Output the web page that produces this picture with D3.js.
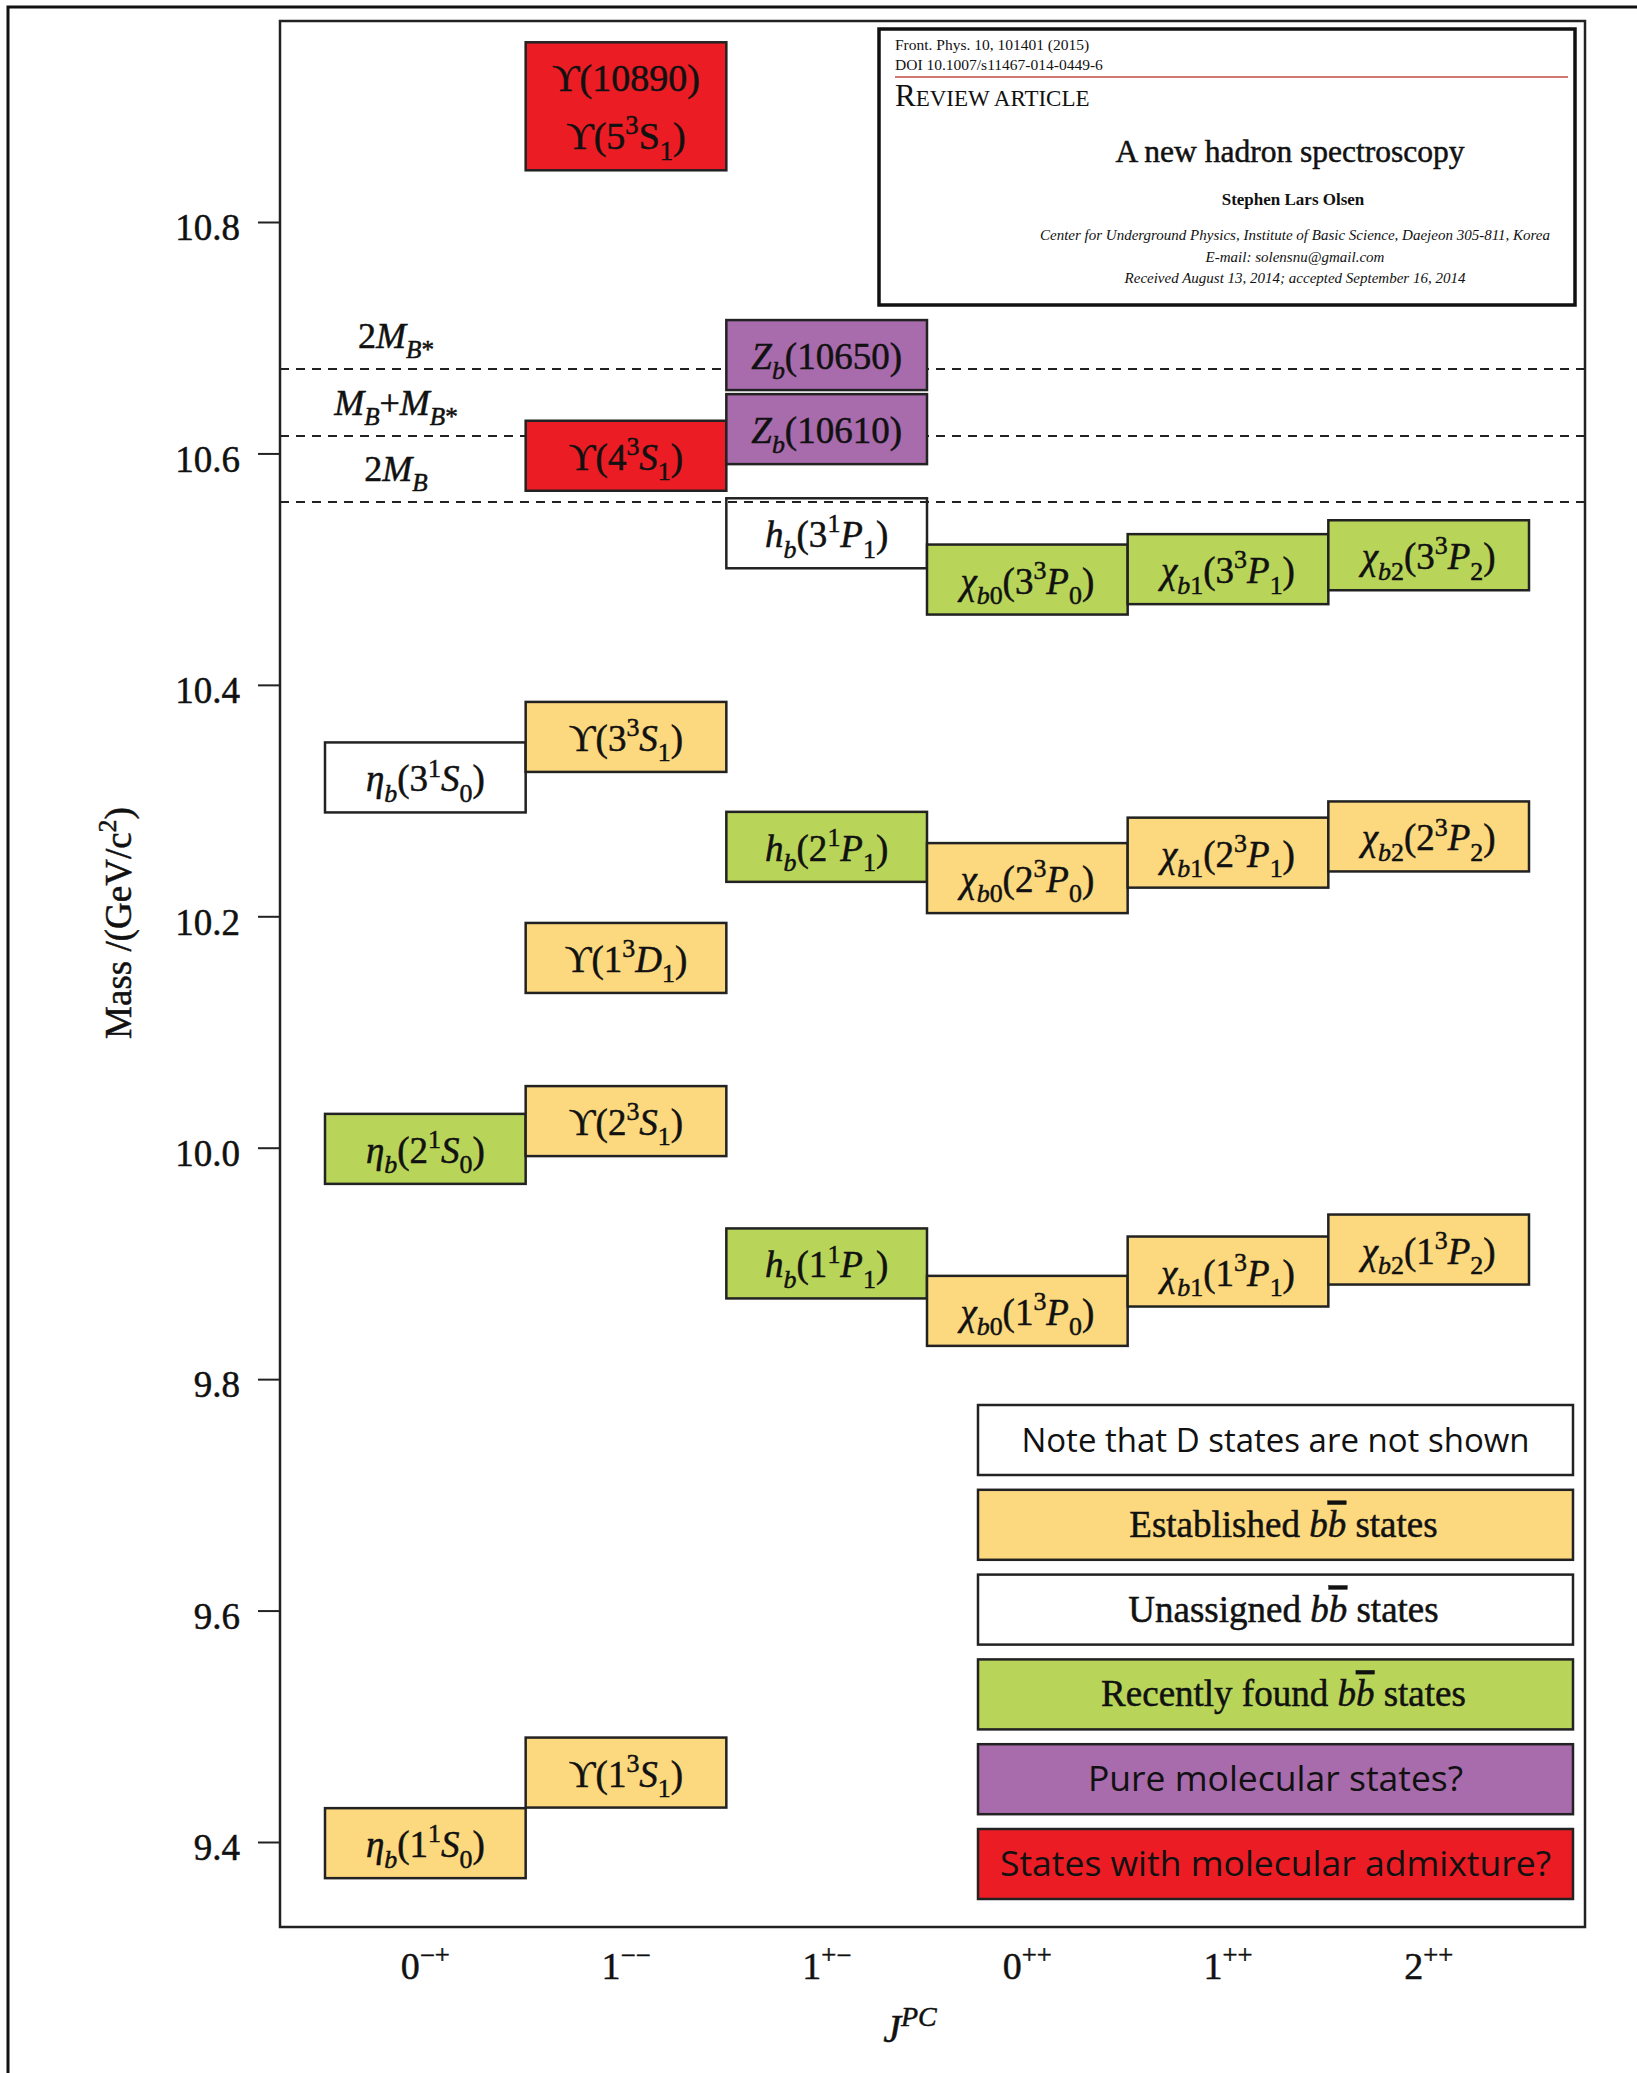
<!DOCTYPE html>
<html>
  <head>
    <meta charset="UTF-8">
    <title>Bottomonium spectrum</title>
  </head>
  <style type="text/css">
    body {
      margin: 0;
      background: #fff;
    }

    text {
      font-family: "Liberation Serif", "Times New Roman", serif;
      fill: #111;
    }

    .heavy {
      stroke: #111;
      stroke-width: 0.5px;
    }

    .sans {
      font-family: "Open Sans", "Noto Sans", sans-serif;
    }
  </style>
  <body>
    <svg width="1637" height="2073"></svg>
  </body>
  <script src="https://d3js.org/d3.v7.min.js"></script>
  <script type="text/javascript">
    // J^PC columns and their tick labels
    const jpc = ['0-+', '1--', '1+-', '0++', '1++', '2++'];
    const jpcLabels = ['0^{−+}', '1^{−−}', '1^{+−}', '0^{++}', '1^{++}', '2^{++}'];
    const massTicks = [9.4, 9.6, 9.8, 10.0, 10.2, 10.4, 10.6, 10.8];

    // states: label ('|' = new line), column, mass in GeV, kind
    const stateLabels = [
      'η_b(1^1S_0)', 'η_b(2^1S_0)', 'η_b(3^1S_0)',
      'ϒ(1^3S_1)', 'ϒ(2^3S_1)', 'ϒ(1^3D_1)', 'ϒ(3^3S_1)', 'ϒ(4^3S_1)', 'ϒ(10890)|ϒ(5^3!S_1)',
      'h_b(1^1P_1)', 'h_b(2^1P_1)', 'h_b(3^1P_1)', 'Z_b(10610)', 'Z_b(10650)',
      'χ_{b0}(1^3P_0)', 'χ_{b0}(2^3P_0)', 'χ_{b0}(3^3P_0)',
      'χ_{b1}(1^3P_1)', 'χ_{b1}(2^3P_1)', 'χ_{b1}(3^3P_1)',
      'χ_{b2}(1^3P_2)', 'χ_{b2}(2^3P_2)', 'χ_{b2}(3^3P_2)'
    ];
    const stateJPC = [
      '0-+', '0-+', '0-+',
      '1--', '1--', '1--', '1--', '1--', '1--',
      '1+-', '1+-', '1+-', '1+-', '1+-',
      '0++', '0++', '0++',
      '1++', '1++', '1++',
      '2++', '2++', '2++'
    ];
    const stateMass = [
      9.399, 9.999, 10.320,
      9.460, 10.023, 10.164, 10.355, 10.598, 10.900,
      9.900, 10.260, 10.531, 10.621, 10.685,
      9.859, 10.233, 10.491,
      9.893, 10.255, 10.500,
      9.912, 10.269, 10.512
    ];
    const stateKind = [
      'est', 'new', 'unas',
      'est', 'est', 'est', 'est', 'mix', 'mix',
      'new', 'new', 'unas', 'mol', 'mol',
      'est', 'est', 'new',
      'est', 'est', 'new',
      'est', 'est', 'new'
    ];

    // open-flavour thresholds
    const thrLabels = ['2M_{B*}', 'M_B+M_{B*}', '2M_B'];
    const thrMass = [10.673, 10.615, 10.558];

    const legendLabels = [
      'Note that D states are not shown',
      'Established $b~b states',
      'Unassigned $b~b states',
      'Recently found $b~b states',
      'Pure molecular states?',
      'States with molecular admixture?'
    ];
    const legendKind = ['note', 'est', 'unas', 'new', 'mol', 'mix'];

    const fills = {
      est: '#fcd97f',
      new: '#b8d55a',
      unas: 'none',
      note: '#fff',
      mol: '#a86bac',
      mix: '#ec1c24'
    };

    let svg = d3.select('svg');
    const frame = {left: 280, top: 21, right: 1585, bottom: 1927};

    const y = d3.scaleLinear().domain([9.4, 10.8]).range([1842, 222]);
    const x = d3.scaleBand().domain(jpc).range([325, 1529]);

    // tiny markup: _x / _{xy} sub, ^x / ^{xy} sup, !x upright, $x italic, ~x italic + overline
    const parseRich = (str, italicAll) => {
      const runs = [];
      let i = 0;
      while (i < str.length) {
        let ch = str[i];
        if (ch === '_' || ch === '^') {
          const mode = ch === '_' ? 1 : -1;
          i++;
          let body;
          if (str[i] === '{') {
            const j = str.indexOf('}', i);
            body = str.slice(i + 1, j);
            i = j + 1;
          } else {
            body = str[i];
            i++;
          }
          for (const c of body) {
            runs.push({c, mode, it: italicAll && /[A-Za-zηχ]/.test(c), ov: false});
          }
          continue;
        }
        let it = italicAll && /[A-Za-zηχ]/.test(ch), ov = false;
        if (ch === '!') { it = false; i++; ch = str[i]; }
        else if (ch === '$') { it = true; i++; ch = str[i]; }
        else if (ch === '~') { it = true; ov = true; i++; ch = str[i]; }
        runs.push({c: ch, mode: 0, it, ov});
        i++;
      }
      const groups = [];
      runs.forEach(r => {
        const g = groups[groups.length - 1];
        if (g && g.mode === r.mode && g.it === r.it && g.ov === r.ov) g.s += r.c;
        else groups.push({s: r.c, mode: r.mode, it: r.it, ov: r.ov});
      });
      return groups;
    };

    const rich = (t, str, size, italicAll) => {
      let cur = 0;
      parseRich(str, italicAll).forEach(g => {
        const off = g.mode === 1 ? 0.28 * size : g.mode === -1 ? -0.4 * size : 0;
        t.append('tspan')
          .attr('dy', off - cur)
          .attr('font-size', g.mode ? size * 0.7 : size)
          .attr('font-style', g.it ? 'italic' : 'normal')
          .style('text-decoration', g.ov ? 'overline' : null)
          .text(g.s);
        cur = off;
      });
      return t;
    };

    // outer frame
    svg.append('path')
      .attr('d', 'M8,2073V7H1637')
      .attr('fill', 'none')
      .attr('stroke', '#111')
      .attr('stroke-width', 3);

    // plot frame
    svg.append('rect')
      .attr('x', frame.left)
      .attr('y', frame.top)
      .attr('width', frame.right - frame.left)
      .attr('height', frame.bottom - frame.top)
      .attr('fill', 'none')
      .attr('stroke', '#222')
      .attr('stroke-width', 2.5);

    // y axis
    const yAxis = d3.axisLeft(y)
      .tickValues(massTicks)
      .tickSize(22)
      .tickPadding(18)
      .tickFormat(d3.format('.1f'));

    svg.append('g')
      .attr('transform', 'translate(' + frame.left + ',0)')
      .call(yAxis)
      .attr('font-family', '"Liberation Serif", serif')
      .attr('font-size', 37)
      .call(g => g.select('.domain').remove())
      .call(g => g.selectAll('.tick line').attr('stroke', '#222').attr('stroke-width', 2))
      .call(g => g.selectAll('.tick text').attr('fill', '#111').attr('class', 'heavy').attr('dy', '0.48em'));

    // x axis
    const xAxis = d3.axisBottom(x).tickSize(0).tickFormat(() => '');
    const gx = svg.append('g')
      .attr('transform', 'translate(0,' + frame.bottom + ')')
      .call(xAxis)
      .attr('font-family', '"Liberation Serif", serif')
      .attr('font-size', 38);
    gx.select('.domain').remove();
    gx.selectAll('.tick text')
      .attr('y', 52)
      .attr('dy', null)
      .attr('fill', '#111')
      .attr('class', 'heavy')
      .each(function(d, i) { rich(d3.select(this), jpcLabels[i], 38, false); });

    // axis titles
    rich(svg.append('text')
      .attr('class', 'heavy')
      .attr('transform', 'translate(131,923) rotate(-90)')
      .attr('text-anchor', 'middle'), 'Mass /(GeV/c^2)', 37, false);

    rich(svg.append('text')
      .attr('class', 'heavy')
      .attr('x', 910)
      .attr('y', 2042)
      .attr('text-anchor', 'middle'), 'J^{PC}', 40, true);

    // threshold lines
    const gt = svg.append('g');
    thrMass.forEach((m, i) => {
      gt.append('line')
        .attr('x1', frame.left)
        .attr('x2', frame.right)
        .attr('y1', y(m))
        .attr('y2', y(m))
        .attr('stroke', '#222')
        .attr('stroke-width', 2)
        .attr('stroke-dasharray', '9,7');
      rich(gt.append('text')
        .attr('class', 'heavy')
        .attr('x', 396)
        .attr('y', y(m) - 21)
        .attr('text-anchor', 'middle'), thrLabels[i], 36, true);
    });

    // state boxes
    const boxH = 70, lineStep = 58;
    const gb = svg.append('g');
    stateLabels.forEach((lab, i) => {
      const lines = lab.split('|');
      const h = boxH + (lines.length - 1) * lineStep;
      const cy = y(stateMass[i]);
      const x0 = x(stateJPC[i]);
      gb.append('rect')
        .attr('x', x0)
        .attr('y', cy - h / 2)
        .attr('width', x.bandwidth())
        .attr('height', h)
        .attr('fill', fills[stateKind[i]])
        .attr('stroke', '#222')
        .attr('stroke-width', 2.5);
      lines.forEach((ln, k) => {
        rich(gb.append('text')
          .attr('class', 'heavy')
          .attr('x', x0 + x.bandwidth() / 2)
          .attr('y', cy + 14 + (k - (lines.length - 1) / 2) * lineStep)
          .attr('text-anchor', 'middle'), ln, lines.length > 1 ? 38 : 37, true);
      });
    });

    // legend
    const lg = {x: 978, y: 1405, w: 595, h: 70, step: 84.8};
    const gl = svg.append('g');
    legendLabels.forEach((lab, i) => {
      const ly = lg.y + i * lg.step;
      gl.append('rect')
        .attr('x', lg.x)
        .attr('y', ly)
        .attr('width', lg.w)
        .attr('height', lg.h)
        .attr('fill', fills[legendKind[i]] === 'none' ? '#fff' : fills[legendKind[i]])
        .attr('stroke', '#222')
        .attr('stroke-width', 2.5);
      const serif = lab.includes('~');
      const t = gl.append('text')
        .attr('x', lg.x + lg.w / 2 + (serif ? 8 : 0))
        .attr('y', ly + lg.h / 2 + 12)
        .attr('text-anchor', 'middle')
        .attr('class', serif ? 'heavy' : 'sans');
      rich(t, lab, serif ? 37 : (i === 0 ? 33 : 35.5), false);
    });

    // article header inset
    const gi = svg.append('g');
    gi.append('rect')
      .attr('x', 879)
      .attr('y', 29)
      .attr('width', 696)
      .attr('height', 276)
      .attr('fill', '#fff')
      .attr('stroke', '#111')
      .attr('stroke-width', 3.5);
    gi.append('text').attr('x', 895).attr('y', 50).attr('font-size', 15.5).attr('fill', '#444')
      .text('Front. Phys. 10, 101401 (2015)');
    gi.append('text').attr('x', 895).attr('y', 70).attr('font-size', 15.5).attr('fill', '#444')
      .text('DOI 10.1007/s11467-014-0449-6');
    gi.append('line')
      .attr('x1', 895).attr('x2', 1568).attr('y1', 77).attr('y2', 77)
      .attr('stroke', '#d27a72').attr('stroke-width', 2);
    const rv = gi.append('text').attr('x', 895).attr('y', 106).attr('fill', '#a3302b');
    rv.append('tspan').attr('font-size', 31).text('R');
    rv.append('tspan').attr('font-size', 23).text('EVIEW ARTICLE');
    gi.append('text').attr('x', 1290).attr('y', 162).attr('font-size', 31.5).attr('text-anchor', 'middle')
      .attr('class', 'heavy').text('A new hadron spectroscopy');
    gi.append('text').attr('x', 1293).attr('y', 205).attr('font-size', 17).attr('font-weight', 'bold')
      .attr('text-anchor', 'middle').text('Stephen Lars Olsen');
    const ital = [
      ['Center for Underground Physics, Institute of Basic Science, Daejeon 305-811, Korea', 240],
      ['E-mail: solensnu@gmail.com', 262],
      ['Received August 13, 2014; accepted September 16, 2014', 283]
    ];
    ital.forEach(d => {
      gi.append('text').attr('x', 1295).attr('y', d[1]).attr('font-size', 15)
        .attr('font-style', 'italic').attr('fill', '#555').attr('text-anchor', 'middle').text(d[0]);
    });
  </script>
</html>
